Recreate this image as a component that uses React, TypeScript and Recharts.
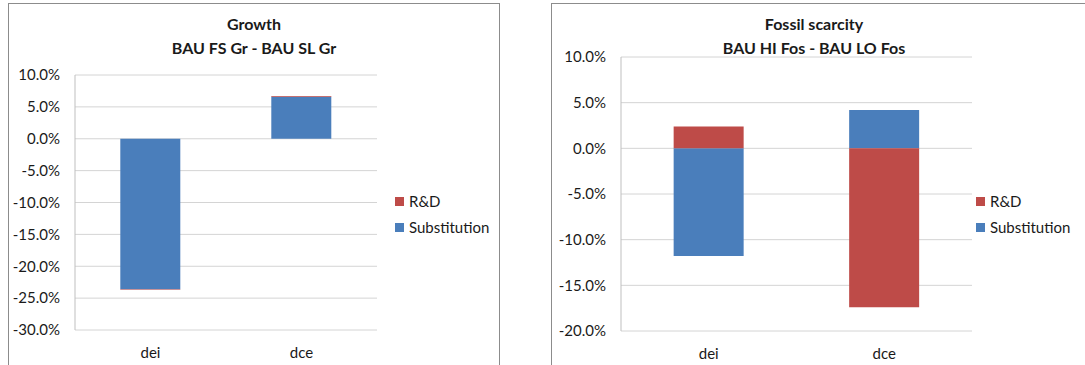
import React from 'react';
import { BarChart, Bar, XAxis, YAxis, CartesianGrid } from 'recharts';

// Decomposition of the change into R&D and substitution effects (percent)
const categories = ['dei', 'dce'];
const growthSubstitution = [-23.6, 6.6];
const growthRnD = [-0.1, 0.1];
const fossilSubstitution = [-11.8, 4.2];
const fossilRnD = [2.4, -17.4];
const growthTicks = [10, 5, 0, -5, -10, -15, -20, -25, -30];
const fossilTicks = [10, 5, 0, -5, -10, -15, -20];
const growthTitle = ['Growth', 'BAU FS Gr - BAU SL Gr'];
const fossilTitle = ['Fossil scarcity', 'BAU HI Fos - BAU LO Fos'];
const legendItems = [
  { key: 'RnD', label: 'R&D' },
  { key: 'Substitution', label: 'Substitution' },
];

const BLUE = '#4A7EBB';
const RED = '#BE4B48';
const FONT = 'Lato, "Open Sans", sans-serif';
const GRID = '#d4d4d4';
const TEXT = '#1a1a1a';
const colorOf: Record<string, string> = { RnD: RED, Substitution: BLUE };

const buildRows = (sub: number[], rnd: number[]) =>
  categories.map((category, i) => ({ category, Substitution: sub[i], RnD: rnd[i] }));

const pct = (v: number) => `${v.toFixed(1)}%`;

type PanelProps = {
  frameLeft: number;
  frameWidth: number;
  chartWidth: number;
  marginTop: number;
  marginRight: number;
  yAxisWidth: number;
  titleCenter: number;
  title: string[];
  rows: { category: string; Substitution: number; RnD: number }[];
  ticks: number[];
  legendLeft: number;
};

function Panel(p: PanelProps) {
  const chartHeight = 370;
  const plotHeight = p.ticks.length === 9 ? 255 : 274;
  return (
    <>
      <div
        style={{
          position: 'absolute',
          left: p.frameLeft,
          top: 3,
          width: p.frameWidth,
          height: 420,
          border: '1px solid #8c8c8c',
          boxSizing: 'border-box',
          background: '#fff',
        }}
      />
      <div
        style={{
          position: 'absolute',
          left: p.titleCenter - 160,
          top: 12,
          width: 320,
          textAlign: 'center',
          fontFamily: FONT,
          fontWeight: 700,
          fontSize: 16,
          lineHeight: '24px',
          color: TEXT,
        }}
      >
        {p.title.map((t) => (
          <div key={t}>{t}</div>
        ))}
      </div>
      <div style={{ position: 'absolute', left: p.frameLeft, top: 3 }}>
        <BarChart
          width={p.chartWidth}
          height={chartHeight}
          data={p.rows}
          stackOffset="sign"
          barCategoryGap="30%"
          margin={{ top: p.marginTop, right: p.marginRight, bottom: 0, left: 0 }}
        >
          <CartesianGrid vertical={false} stroke={GRID} />
          <XAxis
            dataKey="category"
            height={chartHeight - p.marginTop - plotHeight}
            axisLine={false}
            tickLine={false}
            tickMargin={11}
            tick={{ fill: TEXT, fontSize: 15, fontFamily: FONT }}
          />
          <YAxis
            type="number"
            width={p.yAxisWidth}
            domain={[p.ticks[p.ticks.length - 1], p.ticks[0]]}
            ticks={p.ticks}
            interval={0}
            tickFormatter={pct}
            axisLine={{ stroke: '#bfbfbf' }}
            tickLine={false}
            tickMargin={9}
            tick={{ fill: TEXT, fontSize: 15, fontFamily: FONT }}
          />
          <Bar dataKey="Substitution" stackId="s" fill={BLUE} isAnimationActive={false} />
          <Bar dataKey="RnD" stackId="s" fill={RED} isAnimationActive={false} />
        </BarChart>
      </div>
      <div style={{ position: 'absolute', left: p.legendLeft, top: 192, fontFamily: FONT, fontSize: 15, color: TEXT }}>
        {legendItems.map((it) => (
          <div key={it.key} style={{ display: 'flex', alignItems: 'center', height: 18, marginBottom: 8 }}>
            <span style={{ width: 9, height: 9, background: colorOf[it.key], marginRight: 5 }} />
            <span style={{ lineHeight: '18px' }}>{it.label}</span>
          </div>
        ))}
      </div>
    </>
  );
}

export default function App() {
  return (
    <div
      style={{
        position: 'absolute',
        left: 0,
        top: 0,
        width: 1085,
        height: 365,
        overflow: 'hidden',
        background: '#fff',
      }}
    >
      <Panel
        frameLeft={8}
        frameWidth={492}
        chartWidth={492}
        marginTop={72}
        marginRight={123}
        yAxisWidth={67}
        titleCenter={254}
        title={growthTitle}
        rows={buildRows(growthSubstitution, growthRnD)}
        ticks={growthTicks}
        legendLeft={395}
      />
      <Panel
        frameLeft={551}
        frameWidth={560}
        chartWidth={534}
        marginTop={54}
        marginRight={113}
        yAxisWidth={70}
        titleCenter={814}
        title={fossilTitle}
        rows={buildRows(fossilSubstitution, fossilRnD)}
        ticks={fossilTicks}
        legendLeft={976}
      />
    </div>
  );
}
